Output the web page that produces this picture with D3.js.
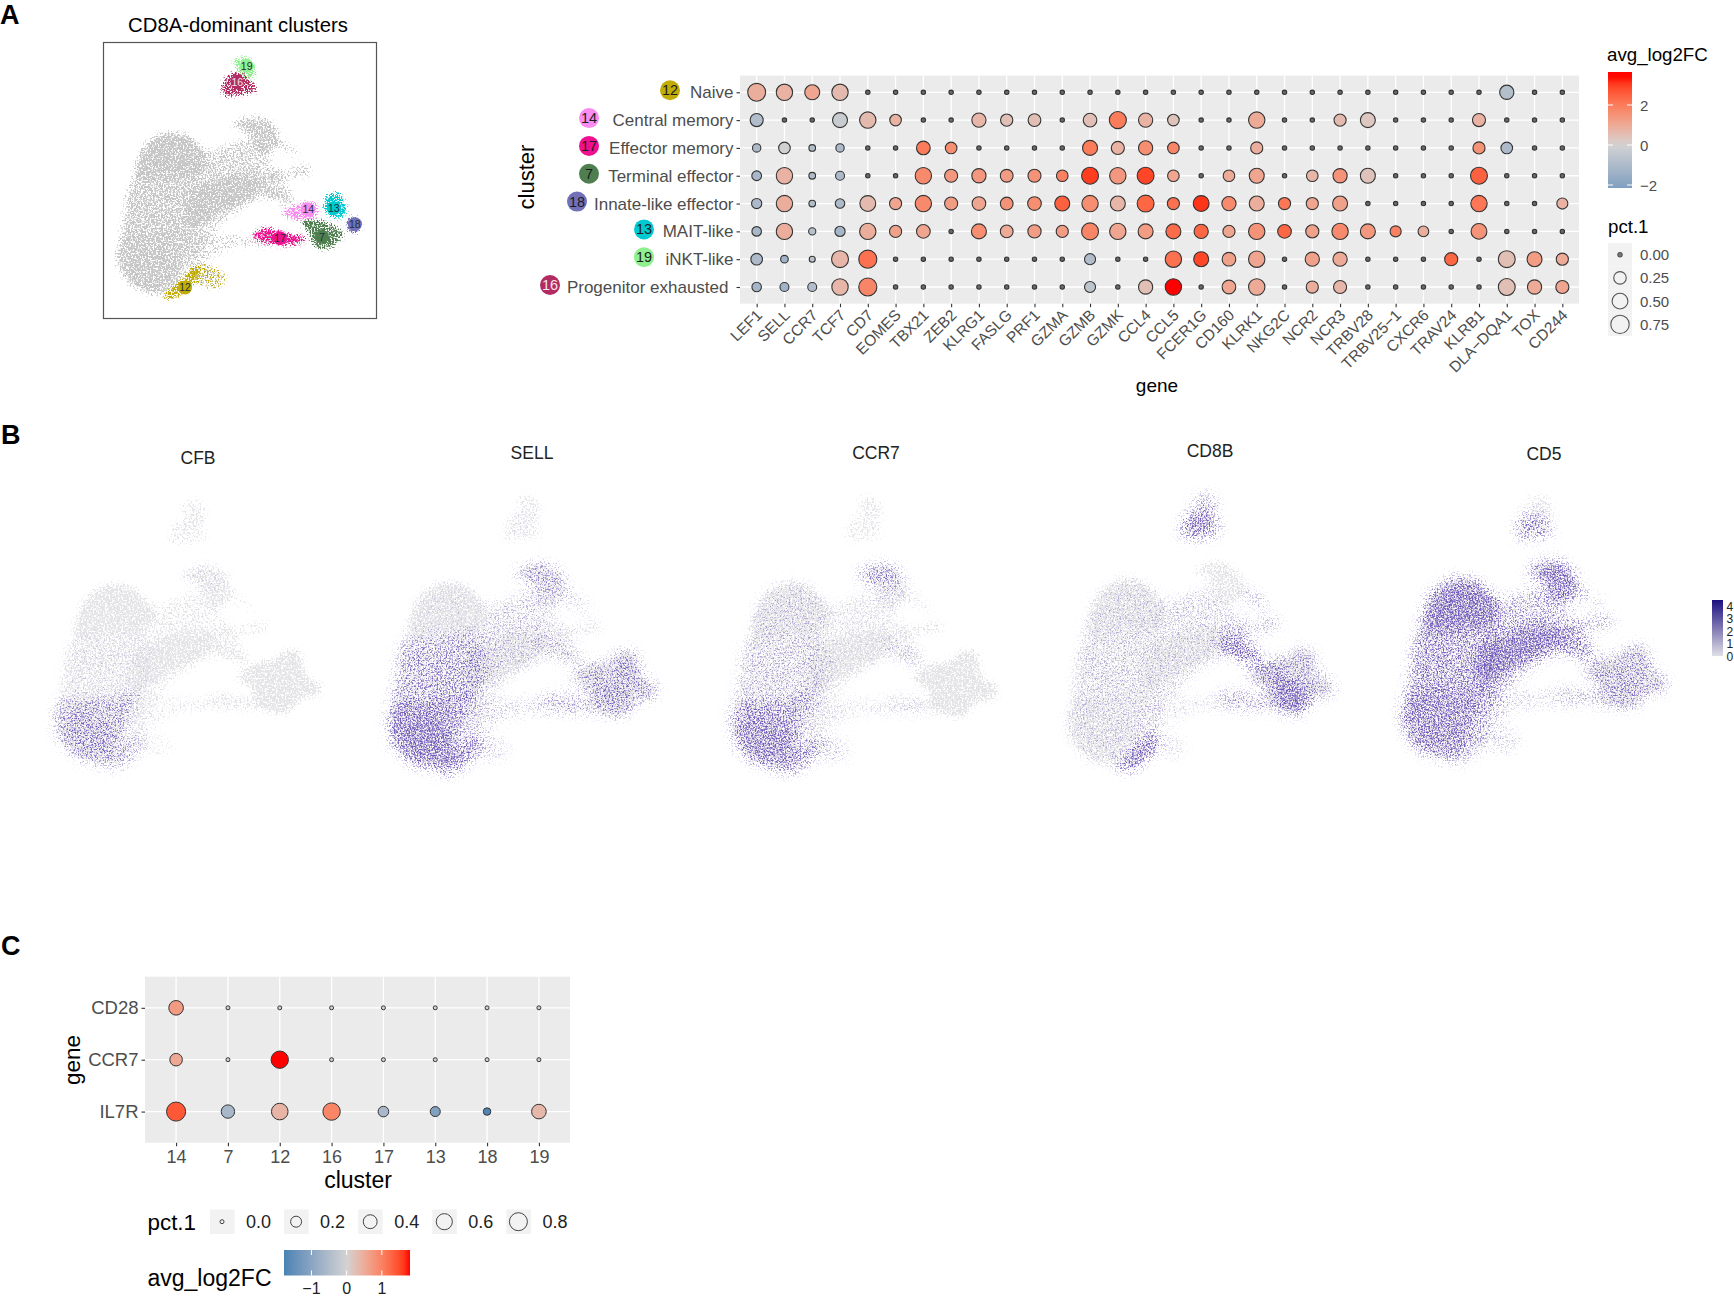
<!DOCTYPE html>
<html>
<head>
<meta charset="utf-8">
<script src="https://cdn.jsdelivr.net/npm/d3@7"></script>
<style>
  html, body { margin: 0; background: #fff; }
  svg { display: block; font-family: "Liberation Sans", Arial, sans-serif; }
  .tick line { stroke: #333; stroke-width: 1.1; }
</style>
</head>
<body>
<svg id="figure" width="1734" height="1300"></svg>
<script>
// ---- panel A dot plot ----
const genesA = ["LEF1","SELL","CCR7","TCF7","CD7","EOMES","TBX21","ZEB2","KLRG1","FASLG","PRF1","GZMA","GZMB","GZMK","CCL4","CCL5","FCER1G","CD160","KLRK1","NKG2C","NCR2","NCR3","TRBV28","TRBV25\u22121","CXCR6","TRAV24","KLRB1","DLA\u2212DQA1","TOX","CD244"];
const clusterNames = ["Naive","Central memory","Effector memory","Terminal effector","Innate-like effector","MAIT-like","iNKT-like","Progenitor exhausted"];
const clusterIds = ["12","14","17","7","18","13","19","16"];
const clusterColors = ["#c2ad08","#f98cf0","#f0108f","#4f7f4f","#7270b8","#00c9d0","#8ef08e","#b22c62"];

const pctA = [
  [.70,.55,.43,.55,0,0,0,0,0,0,0,0,0,0,0,0,0,0,0,0,0,0,0,0,0,0,0,.37,0,0],
  [.29,0,0,.43,.55,.20,0,0,.37,.24,.27,0,.33,.62,.37,.20,0,0,.55,0,0,.23,.43,0,0,0,.29,0,0,0],
  [.06,.20,.02,.06,0,0,.33,.20,0,0,0,0,.43,.29,.37,.20,0,0,.23,0,0,0,0,0,0,0,.23,.20,0,0],
  [.11,.55,.02,.08,0,0,.55,.29,.37,.27,.29,.20,.60,.55,.60,.20,0,.20,.43,0,.20,.37,.43,0,0,0,.60,0,0,0],
  [.13,.55,.02,.10,.50,.23,.55,.29,.33,.27,.33,.43,.55,.43,.60,.23,.50,.37,.43,.23,.23,.43,0,0,0,0,.55,0,0,.17],
  [.10,.55,.03,.13,.55,.23,.33,0,.43,.27,.30,.23,.60,.55,.43,.43,.37,.23,.55,.33,.29,.55,.43,.17,.15,0,.50,0,0,0],
  [.20,.04,.01,.60,.72,0,0,0,0,0,0,0,.17,0,0,.55,.43,.33,.55,0,.37,.37,0,0,0,.29,0,.60,.43,.23],
  [.10,.08,.08,.55,.72,0,0,0,0,0,0,0,.17,0,.37,.55,0,.33,.55,0,.23,.29,0,0,0,0,0,.60,.37,.29]
];
const fcA = [
  [.9,.8,1.1,.6,0,0,0,0,0,0,0,0,0,0,0,0,0,0,0,0,0,0,0,0,0,0,0,-.8,0,0],
  [-.9,0,0,-.3,.6,.8,0,0,.7,.5,.5,0,.5,2.0,.8,.4,0,0,1.0,0,0,.6,.3,0,0,0,.8,0,0,0],
  [-1,-.1,-.9,-1,0,0,2.0,1.6,0,0,0,0,2.0,.8,1.6,1.8,0,0,.9,0,0,0,0,0,0,0,1.5,-1,0,0],
  [-1.1,.8,-.9,-1,0,0,1.7,1.4,1.4,1.3,1.5,1.9,3.0,1.4,2.9,1.1,0,1,1.1,0,.7,1.5,.4,0,0,0,2.5,0,0,0],
  [-1,.9,-.9,-1,.6,1.1,1.7,1.3,1.1,1.5,1.6,2.5,1.6,.7,2.4,2.2,3.1,1.7,.9,2.1,1.1,1.2,0,0,0,0,2.1,0,0,.8],
  [-1.1,.9,-.7,-1.2,.9,1.2,1.1,0,1.6,1,1.3,1.3,1.8,1.1,1.3,2.3,2.4,1.1,1.5,2.4,1.2,1.7,1.4,1.9,.9,0,1.5,0,0,0],
  [-1,-1.3,-.6,.7,2.2,0,0,0,0,0,0,0,-.9,0,0,2.2,2.9,1.2,1.1,0,1.2,1,0,0,0,2.4,0,.5,1.3,1.0],
  [-1.2,-1.3,-.9,.7,1.8,0,0,0,0,0,0,0,-.6,0,.5,3.4,0,1.1,1,0,.9,.7,0,0,0,0,0,.5,1,1.1]
];
const colorTicksA = [-2, 0, 2];
const sizeTicksA = [0, .25, .5, .75];

// ---- panel C dot plot ----
const clustersC = ["14","7","12","16","17","13","18","19"];
const genesC = ["CD28","CCR7","IL7R"];
const pctC = [
  [.46,0,0,0,0,0,0,0],
  [.30,0,.73,0,0,0,0,0],
  [.93,.36,.65,.73,.18,.15,.05,.46]
];
const fcC = [
  [.7,0,0,0,0,0,0,0],
  [.55,0,1.8,0,0,0,0,0],
  [1.4,-.6,.4,.95,-.6,-1.1,-1.7,.35]
];
const colorTicksC = [-1, 0, 1];
const sizeTicksC = [0, .2, .4, .6, .8];

// ---- UMAP panels ----
// The cell clouds are too dense to read cell by cell, so they are drawn as density
// regions; the speckle is a texture filter, not plotted cells.
const umapRegionNames = ["sheet","tipTop","tipLow","arcTop","arcCap","arcTail","lobeTop","midBand","leftMid","lowerBody","coreLow","bridge","armRight","streak","lowerArm","tailRight","tailLeft","rightLobe","c14","c13","c18","c7","c17"];
const umapRegions = [
  [[355,800],[365,700],[385,580],[405,500],[440,430],[500,395],[565,405],[620,450],[690,430],[745,420],[800,470],[840,520],[880,600],[830,605],[787,599],[650,686],[600,760],[540,850],[470,878],[400,860]],
  [[700,180],[730,170],[760,185],[765,225],[740,240],[715,215]],
  [[680,230],[710,215],[745,235],[770,270],[720,285],[670,285],[665,260]],
  [[695,378],[735,352],[790,352],[830,385],[838,430],[800,465],[765,450],[745,405],[715,385]],
  [[695,378],[735,352],[790,352],[825,385],[780,400],[720,395]],
  [[830,415],[880,440],[905,470],[880,470],[835,440]],
  [[405,520],[430,440],[490,398],[560,405],[610,450],[625,490],[590,525],[500,530],[420,545]],
  [[590,570],[700,525],[790,535],[760,590],[680,630],[610,670],[570,680],[560,620]],
  [[385,560],[430,540],[520,530],[600,530],[620,620],[590,690],[530,710],[430,730],[365,730],[372,630]],
  [[358,720],[450,710],[540,700],[590,680],[555,760],[530,840],[490,885],[400,860],[355,800]],
  [[360,770],[470,750],[520,790],[500,860],[400,860]],
  [[625,490],[690,440],[745,430],[770,490],[790,530],[700,525],[610,540]],
  [[800,520],[860,510],[930,495],[930,525],[860,535],[810,545]],
  [[770,540],[810,555],[880,600],[870,620],[830,600],[770,565]],
  [[600,700],[650,700],[760,705],[830,695],[905,715],[905,735],[830,740],[700,745],[590,790],[560,770]],
  [[570,800],[620,790],[680,835],[650,865],[610,860],[580,840]],
  [[490,885],[540,840],[585,800],[600,820],[560,870],[510,898]],
  [[850,650],[900,610],[950,600],[985,575],[1025,580],[1045,645],[1085,670],[1070,705],[1035,705],[990,748],[945,745],[905,730],[890,680]],
  [[845,640],[900,610],[945,605],[950,650],[900,660],[860,650]],
  [[970,620],[985,580],[1020,580],[1040,640],[1010,655],[980,640]],
  [[1040,660],[1065,648],[1085,670],[1070,700],[1045,695]],
  [[905,665],[960,660],[1010,680],[1030,700],[990,745],[945,740],[925,700]],
  [[755,710],[800,680],[840,695],[920,715],[900,730],[830,735],[770,720]]
];
const umapBase = [.42,.55,.5,.7,0,.35,.72,.72,.35,.5,.2,.12,.5,.45,.35,.3,.55,.85,0,0,0,0,.3];
const umapGenes = ["CFB","SELL","CCR7","CD8B","CD5"];
const exprCFB  = [.02,.02,.05,.05,.12,0,0,0,.1,.45,.14,0,0,0,.06,.02,.45,0,0,0,0,.02,0];
const exprSELL = [.1,.04,.08,.35,.2,.3,0,.15,.38,.55,.32,.15,.1,.3,.22,.2,.85,.35,.1,.3,.3,.3,.25];
const exprCCR7 = [.06,.02,.02,.22,.4,.08,.18,.05,.22,.5,.3,.05,.04,.28,.12,.2,.65,.02,.02,0,0,.02,.05];
const exprCD8B = [.2,.4,.75,.02,0,.4,0,0,.02,0,0,.02,.35,.85,.1,.12,.95,.3,.45,.15,.25,.7,.35];
const exprCD5  = [.35,.08,.6,.7,.3,.35,.62,.62,.25,.45,0,.05,.45,.6,.2,.2,.3,.42,.05,.05,.05,.1,.15];
const exprTicks = [0, 1, 2, 3, 4];

const svg = d3.select("#figure");
const defs = svg.append("defs");
const smooth = d3.line().curve(d3.curveCatmullRomClosed.alpha(0.5));

const TEXT_GREY = "#4d4d4d";
const PANEL_GREY = "#ebebeb";

function addText(x, y, text, size, opts = {}) {
  return svg.append("text")
    .attr("x", x).attr("y", y)
    .attr("font-size", size)
    .attr("fill", opts.fill || "#000")
    .attr("font-weight", opts.weight || null)
    .attr("text-anchor", opts.anchor || "start")
    .attr("transform", opts.rotate ? `rotate(${opts.rotate} ${x} ${y})` : null)
    .text(text);
}

// density -> speckle: alpha of the blurred shapes is added to noise and thresholded
function addSpeckle(id, color, seed, blur, freq) {
  const f = defs.append("filter").attr("id", id)
    .attr("filterUnits", "userSpaceOnUse")
    .attr("x", 0).attr("y", 0).attr("width", 1734).attr("height", 1300)
    .attr("color-interpolation-filters", "sRGB");
  f.append("feGaussianBlur").attr("in", "SourceAlpha").attr("stdDeviation", blur).attr("result", "soft");
  f.append("feTurbulence").attr("type", "fractalNoise").attr("baseFrequency", freq)
    .attr("numOctaves", 2).attr("seed", seed).attr("result", "noise");
  f.append("feColorMatrix").attr("in", "noise").attr("type", "matrix")
    .attr("values", "0 0 0 0 0  0 0 0 0 0  0 0 0 0 0  2.6 0 0 0 -0.8").attr("result", "grain");
  f.append("feComposite").attr("in", "soft").attr("in2", "grain").attr("operator", "arithmetic")
    .attr("k1", 0).attr("k2", 3).attr("k3", 3).attr("k4", -3).attr("result", "mask");
  f.append("feFlood").attr("flood-color", color).attr("result", "ink");
  f.append("feComposite").attr("in", "ink").attr("in2", "mask").attr("operator", "in");
}

function drawRegions(x, y, densities, filterId) {
  const g = svg.append("g").attr("filter", `url(#${filterId})`);
  umapRegions.forEach((region, i) => {
    if (!densities[i]) return;
    g.append("path")
      .attr("d", smooth(region.map((p) => [x(p[0]), y(p[1])])))
      .attr("fill", "#000")
      .attr("fill-opacity", densities[i]);
  });
}

// ---- shared dot plot drawing ----
function makeColor(limit) {
  return d3.scaleLinear().domain([-limit, 0, limit])
    .range(["#4682b4", "#d3d3d3", "#ff0000"]).interpolate(d3.interpolateLab).clamp(true);
}

function drawGrid(box, x, y, rowKeys, colKeys) {
  svg.append("rect").attr("x", box.x0).attr("y", box.y0)
    .attr("width", box.x1 - box.x0).attr("height", box.y1 - box.y0).attr("fill", PANEL_GREY);
  svg.append("g").selectAll("line").data(colKeys).join("line")
    .attr("x1", (d) => x(d)).attr("x2", (d) => x(d))
    .attr("y1", box.y0).attr("y2", box.y1)
    .attr("stroke", "#fff").attr("stroke-width", 1.3);
  svg.append("g").selectAll("line").data(rowKeys).join("line")
    .attr("y1", (d) => y(d)).attr("y2", (d) => y(d))
    .attr("x1", box.x0).attr("x2", box.x1)
    .attr("stroke", "#fff").attr("stroke-width", 1.3);
}

function drawDots(x, y, rowKeys, colKeys, pct, fc, radius, color, strokeW) {
  const cells = [];
  rowKeys.forEach((r, i) => colKeys.forEach((c, j) => cells.push({ r, c, pct: pct[i][j], fc: fc[i][j] })));
  svg.append("g").selectAll("circle").data(cells).join("circle")
    .attr("cx", (d) => x(d.c)).attr("cy", (d) => y(d.r))
    .attr("r", (d) => radius(d.pct))
    .attr("fill", (d) => color(d.fc))
    .attr("stroke", "#333")
    .attr("stroke-width", strokeW);
}

function addGradient(id, color, lo, hi, horizontal) {
  const grad = defs.append("linearGradient").attr("id", id)
    .attr("x1", 0).attr("y1", horizontal ? 0 : 1).attr("x2", horizontal ? 1 : 0).attr("y2", 0);
  d3.range(0, 1.001, 0.05).forEach((t) => {
    grad.append("stop").attr("offset", t).attr("stop-color", color(lo + (hi - lo) * t));
  });
}

// ==== panel letters ====
addText(0, 24, "A", 27, { weight: "bold" });
addText(1, 444, "B", 27, { weight: "bold" });
addText(1, 955, "C", 27, { weight: "bold" });

// ==== A: UMAP with clusters ====
addText(238, 32, "CD8A-dominant clusters", 20.3, { anchor: "middle" });
const xA = d3.scaleLinear().domain([310, 1130]).range([103.5, 376.5]);
const yA = d3.scaleLinear().domain([127, 955]).range([42.5, 318.5]);
const clusterRegion = { "12": "tailLeft", "14": "c14", "17": "c17", "7": "c7", "18": "c18", "13": "c13", "19": "tipTop", "16": "tipLow" };
const clusterCenter = { "12": [555,862], "14": [925,628], "17": [840,714], "7": [966,710], "18": [1065,672], "13": [1002,624], "19": [740,197], "16": [712,245] };
const notInGrey = ["tipTop","tipLow","tailLeft","rightLobe"];

addSpeckle("sp-a-grey", "#c6c6c6", 3, 3, 0.6);
const baseA = umapBase.map((v, i) => (notInGrey.includes(umapRegionNames[i]) ? 0 : Math.min(1, v + .1)));
drawRegions(xA, yA, baseA, "sp-a-grey");
clusterIds.forEach((id, k) => {
  const filterId = `sp-a-${id}`;
  addSpeckle(filterId, clusterColors[k], 10 + k, 2, 0.7);
  const g = svg.append("g").attr("filter", `url(#${filterId})`);
  g.append("path")
    .attr("d", smooth(umapRegions[umapRegionNames.indexOf(clusterRegion[id])].map((p) => [xA(p[0]), yA(p[1])])))
    .attr("fill", "#000").attr("fill-opacity", .85);
  if (id === "12") {
    g.append("path")
      .attr("d", smooth(umapRegions[umapRegionNames.indexOf("tailRight")].map((p) => [xA(p[0]), yA(p[1])])))
      .attr("fill", "#000").attr("fill-opacity", .45);
  }
});
clusterIds.forEach((id, k) => {
  const c = clusterCenter[id];
  svg.append("circle").attr("cx", xA(c[0])).attr("cy", yA(c[1])).attr("r", 7).attr("fill", clusterColors[k]);
  addText(xA(c[0]), yA(c[1]) + 3.8, id, 10.5, { anchor: "middle", fill: id === "16" ? "#f3e6ec" : "#20303a" });
});
svg.append("rect").attr("x", 103.5).attr("y", 42.5).attr("width", 273).attr("height", 276)
  .attr("fill", "none").attr("stroke", "#555").attr("stroke-width", 1.2);

// ==== A: dot plot ====
const boxA = { x0: 740, x1: 1579, y0: 75.6, y1: 303.7 };
const xGene = d3.scalePoint().domain(genesA).range([boxA.x0, boxA.x1]).padding(0.6);
const yCluster = d3.scalePoint().domain(clusterNames).range([boxA.y0, boxA.y1]).padding(0.6);
const colorA = makeColor(3.4);
const radiusA = d3.scaleSqrt().domain([0, .75]).range([2.2, 9.2]);

drawGrid(boxA, xGene, yCluster, clusterNames, genesA);
drawDots(xGene, yCluster, clusterNames, genesA, pctA, fcA, radiusA, (v) => (v === 0 ? "#6a6a6a" : colorA(v)), 1.1);

const axisA = svg.append("g").attr("transform", `translate(0,${boxA.y1})`)
  .call(d3.axisBottom(xGene).tickSize(3.5));
axisA.select(".domain").remove();
axisA.selectAll("text")
  .attr("font-size", 15.5).attr("fill", TEXT_GREY)
  .attr("text-anchor", "end").attr("x", 0).attr("y", 0).attr("dy", "0.35em")
  .attr("transform", "translate(2,8.5) rotate(-45)");

const axisAy = svg.append("g").attr("transform", `translate(${boxA.x0},0)`)
  .call(d3.axisLeft(yCluster).tickSize(3.5).tickPadding(3));
axisAy.select(".domain").remove();
axisAy.selectAll("text").attr("font-size", 17).attr("fill", TEXT_GREY);
axisAy.selectAll("text").filter((d) => d === "Progenitor exhausted").attr("dx", -5);

// cluster badges beside the row labels
const badgeX = [670, 589, 589, 589, 577, 644, 644, 550];
clusterIds.forEach((id, i) => {
  const y = yCluster(clusterNames[i]) - 2;
  svg.append("circle").attr("cx", badgeX[i]).attr("cy", y).attr("r", 10).attr("fill", clusterColors[i]);
  addText(badgeX[i], y + 5, id, 14.5, { anchor: "middle", fill: id === "16" ? "#f5e6ee" : "#1c1c1c" });
});

addText(534, 177, "cluster", 22, { anchor: "middle", rotate: -90 });
addText(1157, 392, "gene", 19, { anchor: "middle" });

// colour legend A
addText(1607, 61, "avg_log2FC", 18.7);
addGradient("bar-a", colorA, -2.15, 3.65, false);
const barA = d3.scaleLinear().domain([-2.15, 3.65]).range([188, 72]);
svg.append("rect").attr("x", 1608).attr("y", 72).attr("width", 24).attr("height", 116).attr("fill", "url(#bar-a)");
colorTicksA.forEach((t) => {
  [[1608, 1613], [1627, 1632]].forEach(([a, b]) => {
    svg.append("line").attr("x1", a).attr("x2", b).attr("y1", barA(t)).attr("y2", barA(t))
      .attr("stroke", "#fff").attr("stroke-width", 1);
  });
  addText(1640, barA(t) + 5.5, String(t).replace("-", "\u2212"), 15, { fill: TEXT_GREY });
});

// size legend A
addText(1608, 233, "pct.1", 18.7);
const keyA = d3.scaleBand().domain(sizeTicksA).range([243, 336]);
svg.append("g").selectAll("rect").data(sizeTicksA).join("rect")
  .attr("x", 1608).attr("y", (d) => keyA(d)).attr("width", 24).attr("height", keyA.bandwidth())
  .attr("fill", "#f2f2f2");
svg.append("g").selectAll("circle").data(sizeTicksA).join("circle")
  .attr("cx", 1620).attr("cy", (d) => keyA(d) + keyA.bandwidth() / 2)
  .attr("r", (d) => radiusA(d)).attr("fill", (d) => (d === 0 ? "#777" : "none"))
  .attr("stroke", "#555").attr("stroke-width", 1.1);
sizeTicksA.forEach((t) => {
  addText(1640, keyA(t) + keyA.bandwidth() / 2 + 5.5, t.toFixed(2), 15, { fill: TEXT_GREY });
});

// ==== B: feature plots ====
const exprByPanel = [exprCFB, exprSELL, exprCCR7, exprCD8B, exprCD5];
const titleX = [198, 532, 876, 1210, 1544];
const titleY = [464, 459, 459, 457, 460];
const panelX = [[57, 322], [390, 657], [733, 998], [1069, 1334], [1403, 1668]];
const panelY = [[502, 770], [497, 775], [498, 775], [495, 772], [497, 765]];
const xUmap = d3.scaleLinear().domain([355, 1085]);
const yUmap = d3.scaleLinear().domain([175, 900]);

umapGenes.forEach((gene, i) => {
  addText(titleX[i], titleY[i], gene, 17.5, { anchor: "middle", fill: "#222" });
  const x = xUmap.copy().range(panelX[i]);
  const y = yUmap.copy().range(panelY[i]);
  addSpeckle(`sp-b-grey-${i}`, "#e5e5e7", 30 + i, 3.5, 0.55);
  addSpeckle(`sp-b-mid-${i}`, "#a99bd6", 40 + i, 7, 0.6);
  addSpeckle(`sp-b-dark-${i}`, "#745cbb", 50 + i, 7, 0.65);
  drawRegions(x, y, umapBase, `sp-b-grey-${i}`);
  drawRegions(x, y, exprByPanel[i].map((v) => v * .88), `sp-b-mid-${i}`);
  drawRegions(x, y, exprByPanel[i].map((v) => v * .62), `sp-b-dark-${i}`);
});

// expression colour bar at the page edge
const exprScale = d3.scaleLinear().domain([0, 4]).range(["#e0dfe6", "#1d1080"]);
addGradient("bar-b", exprScale, 0, 4, false);
svg.append("rect").attr("x", 1712).attr("y", 600).attr("width", 11).attr("height", 56).attr("fill", "url(#bar-b)");
const exprY = d3.scaleLinear().domain([0, 4]).range([656, 606]);
exprTicks.forEach((t) => addText(1726.5, exprY(t) + 4.5, t, 12, { fill: "#222" }));

// ==== C: dot plot ====
const boxC = { x0: 145, x1: 570, y0: 976.7, y1: 1142.7 };
const xClusterC = d3.scalePoint().domain(clustersC).range([boxC.x0, boxC.x1]).padding(0.6);
const yGeneC = d3.scalePoint().domain(genesC).range([boxC.y0, boxC.y1]).padding(0.6);
const colorC = makeColor(1.8);
const radiusC = d3.scaleSqrt().domain([0, .8]).range([2, 9]);

drawGrid(boxC, xClusterC, yGeneC, genesC, clustersC);
drawDots(xClusterC, yGeneC, genesC, clustersC, pctC, fcC, radiusC, (v) => (v === 0 ? "#d3d3d3" : colorC(v)), 1);

const axisCx = svg.append("g").attr("transform", `translate(0,${boxC.y1})`)
  .call(d3.axisBottom(xClusterC).tickSize(3.5).tickPadding(4));
axisCx.select(".domain").remove();
axisCx.selectAll("text").attr("font-size", 18).attr("fill", TEXT_GREY);
const axisCy = svg.append("g").attr("transform", `translate(${boxC.x0},0)`)
  .call(d3.axisLeft(yGeneC).tickSize(3.5).tickPadding(3));
axisCy.select(".domain").remove();
axisCy.selectAll("text").attr("font-size", 18.5).attr("fill", TEXT_GREY);

addText(358, 1188, "cluster", 23, { anchor: "middle" });
addText(80, 1060, "gene", 22.5, { anchor: "middle", rotate: -90 });

// size legend C
addText(147.5, 1230, "pct.1", 22.4);
const keyC = d3.scaleLinear().domain([0, .8]).range([222, 518.4]);
svg.append("g").selectAll("rect").data(sizeTicksC).join("rect")
  .attr("x", (d) => keyC(d) - 12).attr("y", 1209.5).attr("width", 24.5).attr("height", 24.5)
  .attr("fill", "#f2f2f2");
svg.append("g").selectAll("circle").data(sizeTicksC).join("circle")
  .attr("cx", (d) => keyC(d)).attr("cy", 1221.7)
  .attr("r", (d) => radiusC(d)).attr("fill", "none")
  .attr("stroke", "#444").attr("stroke-width", 1);
sizeTicksC.forEach((t) => addText(keyC(t) + 24, 1228, t.toFixed(1), 18, { fill: "#222" }));

// colour legend C
addText(147.5, 1286, "avg_log2FC", 23);
addGradient("bar-c", colorC, -1.78, 1.8, true);
const barC = d3.scaleLinear().domain([-1.78, 1.8]).range([284, 410]);
svg.append("rect").attr("x", 284).attr("y", 1250).attr("width", 126).attr("height", 25.5).attr("fill", "url(#bar-c)");
colorTicksC.forEach((t) => {
  [[1250, 1255], [1270.5, 1275.5]].forEach(([a, b]) => {
    svg.append("line").attr("x1", barC(t)).attr("x2", barC(t)).attr("y1", a).attr("y2", b)
      .attr("stroke", "#fff").attr("stroke-width", 1);
  });
  addText(barC(t), 1294, String(t).replace("-", "\u2212"), 16, { anchor: "middle", fill: "#222" });
});
</script>
</body>
</html>
